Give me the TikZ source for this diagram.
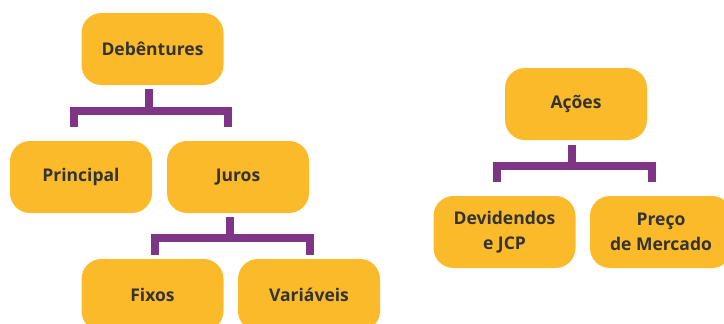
\documentclass[tikz,border=0pt]{standalone}
\usepackage{fontspec}
\setmainfont{Open Sans}
\definecolor{boxorange}{HTML}{FBBA2A}
\definecolor{linkpurple}{HTML}{7F3586}
\definecolor{textgray}{HTML}{333333}
\tikzset{
  item/.style={fill=boxorange, rounded corners=20pt, minimum width=142pt,
    minimum height=72pt, align=center, text=textgray,
    font=\fontsize{17.5}{25}\selectfont\bfseries},
  link/.style={draw=linkpurple, line width=8pt, line join=miter}
}
\begin{document}
\begin{tikzpicture}[x=1pt,y=-1pt]
\useasboundingbox (0,0) rectangle (724,324);
% Debentures
\node[item] (deb) at (152.5,49) {Debêntures};
\node[item] (prin) at (81,177) {Principal};
\node[item] (juros) at (238,177) {Juros};
\node[item] (fixos) at (152.5,295) {Fixos};
\node[item] (var) at (309,295) {Variáveis};
% Acoes
\node[item] (acoes) at (576,104) {Ações};
\node[item] (divid) at (504.5,232) {Devidendos\\e JCP};
\node[item] (preco) at (661,232) {Preço\\de Mercado};
% connectors
\coordinate (debj) at (149,111);
\coordinate (jurj) at (230,238);
\coordinate (acoj) at (572,166);
\draw[link] ([xshift=-3.5pt,yshift=-4pt]deb.south) -- (debj);
\draw[link] ([xshift=-7pt,yshift=14pt]prin.north) |- (debj) -| ([xshift=-10pt,yshift=14pt]juros.north);
\draw[link] ([xshift=-8pt,yshift=-4pt]juros.south) -- (jurj);
\draw[link] ([xshift=2.5pt,yshift=4pt]fixos.north) |- (jurj) -| ([xshift=1pt,yshift=4pt]var.north);
\draw[link] ([xshift=-4pt,yshift=-5pt]acoes.south) -- (acoj);
\draw[link] ([xshift=-7.5pt,yshift=14pt]divid.north) |- (acoj) -| ([xshift=-9pt,yshift=14pt]preco.north);
\end{tikzpicture}
\end{document}
